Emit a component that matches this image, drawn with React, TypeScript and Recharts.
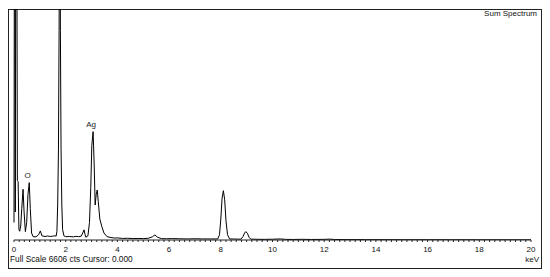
import { LineChart, Line, XAxis, YAxis, ReferenceDot } from "recharts"

// EDS spectrum: [keV, counts]
const spectrumPoints: [number, number][] = [
  [0.0, 500], [0.015, 9000], [0.035, 9000], [0.05, 800], [0.07, 9000], [0.11, 9000],
  [0.13, 1700], [0.16, 1670], [0.19, 300], [0.22, 250], [0.26, 400], [0.3, 900],
  [0.35, 1450], [0.39, 800], [0.44, 240], [0.49, 500], [0.54, 1300], [0.59, 1640],
  [0.63, 900], [0.68, 200], [0.74, 95], [0.85, 90], [0.95, 150], [1.02, 260],
  [1.08, 120], [1.2, 100], [1.3, 115], [1.4, 100], [1.5, 110], [1.58, 120],
  [1.63, 110], [1.66, 250], [1.69, 1000], [1.72, 2600], [1.745, 6000], [1.77, 12000],
  [1.795, 6000], [1.82, 2600], [1.85, 1000], [1.88, 300], [1.93, 120], [2.0, 95],
  [2.15, 100], [2.3, 90], [2.4, 105], [2.5, 95], [2.6, 110], [2.66, 200],
  [2.71, 290], [2.75, 150], [2.78, 80], [2.86, 120], [2.92, 500], [2.97, 1500],
  [3.01, 2700], [3.06, 3100], [3.1, 2200], [3.14, 1000], [3.18, 1300], [3.22, 1430],
  [3.26, 1100], [3.32, 600], [3.4, 380], [3.48, 200], [3.6, 95], [3.75, 70],
  [3.9, 55], [4.0, 60], [4.2, 45], [4.4, 50], [4.6, 40], [4.8, 45],
  [5.0, 40], [5.2, 50], [5.35, 90], [5.45, 145], [5.55, 80], [5.7, 40],
  [5.9, 35], [6.1, 40], [6.4, 35], [6.7, 30], [7.0, 35], [7.3, 30],
  [7.6, 30], [7.88, 30], [7.95, 150], [8.0, 600], [8.05, 1200], [8.1, 1410],
  [8.15, 1150], [8.2, 550], [8.26, 150], [8.34, 30], [8.5, 28], [8.65, 25],
  [8.78, 25], [8.86, 100], [8.92, 200], [8.97, 240], [9.03, 190], [9.09, 80],
  [9.16, 25], [9.4, 20], [9.7, 18], [10.0, 22], [10.3, 30], [10.5, 18],
  [10.8, 15], [11.1, 20], [11.5, 15], [12.0, 18], [12.2, 25], [12.4, 15],
  [12.8, 12], [13.2, 12], [13.6, 10], [14.0, 10], [15.0, 8], [16.0, 8],
  [17.0, 7], [18.0, 6], [19.0, 6], [20.0, 5],
]

const peakLabels = [
  { name: "O", kev: 0.525, counts: 1640 },
  { name: "Ag", kev: 2.984, counts: 3100 },
]

const majorTicks = [0, 2, 4, 6, 8, 10, 12, 14, 16, 18, 20]
const fullScale = 6606

const minorTicks = Array.from({ length: 101 }, (_, i) => Math.round(i * 2) / 10)

const data = spectrumPoints.map(([kev, counts]) => ({ kev, counts }))

const font = "'Liberation Sans', Arial, sans-serif"

export default function App() {
  return (
    <div style={{ position: "absolute", left: 0, top: 0, width: 550, height: 277, background: "#fff", fontFamily: font }}>
      <div
        style={{
          position: "absolute",
          left: 8,
          top: 9,
          width: 534,
          height: 260,
          border: "1px solid #222",
          boxSizing: "border-box",
        }}
      />
      <LineChart width={550} height={277} data={data} margin={{ top: 9, right: 19, left: 14, bottom: 17 }}>
        <XAxis
          dataKey="kev"
          type="number"
          domain={[0, 20]}
          ticks={minorTicks}
          interval={0}
          height={20}
          tickSize={2}
          tickMargin={4}
          stroke="#222"
          tick={{ fill: "#111", fontSize: 8, fontFamily: font }}
          tickFormatter={(v: number) => (majorTicks.includes(Math.round(v * 10) / 10) ? String(v) : "")}
        />
        <YAxis hide domain={[0, fullScale]} allowDataOverflow />
        <Line
          type="linear"
          dataKey="counts"
          stroke="#000"
          strokeWidth={1}
          dot={false}
          isAnimationActive={false}
        />
        {peakLabels.map((p) => (
          <ReferenceDot
            key={p.name}
            x={p.kev}
            y={p.counts}
            r={0}
            stroke="none"
            fill="none"
            label={{
              value: p.name,
              position: "top",
              offset: 5,
              fill: "#222",
              stroke: "none",
              fontSize: 8,
              fontFamily: font,
              style: { fill: "#222" },
            }}
          />
        ))}
      </LineChart>
      <div style={{ position: "absolute", right: 13, top: 9, fontSize: 8, lineHeight: "9px", color: "#111" }}>
        Sum Spectrum
      </div>
      <div style={{ position: "absolute", right: 11, top: 255, fontSize: 8, lineHeight: "9px", color: "#111" }}>keV</div>
      <div style={{ position: "absolute", left: 10, top: 255, fontSize: 8.3, lineHeight: "9px", color: "#111" }}>
        Full Scale {fullScale} cts Cursor: 0.000
      </div>
    </div>
  )
}
